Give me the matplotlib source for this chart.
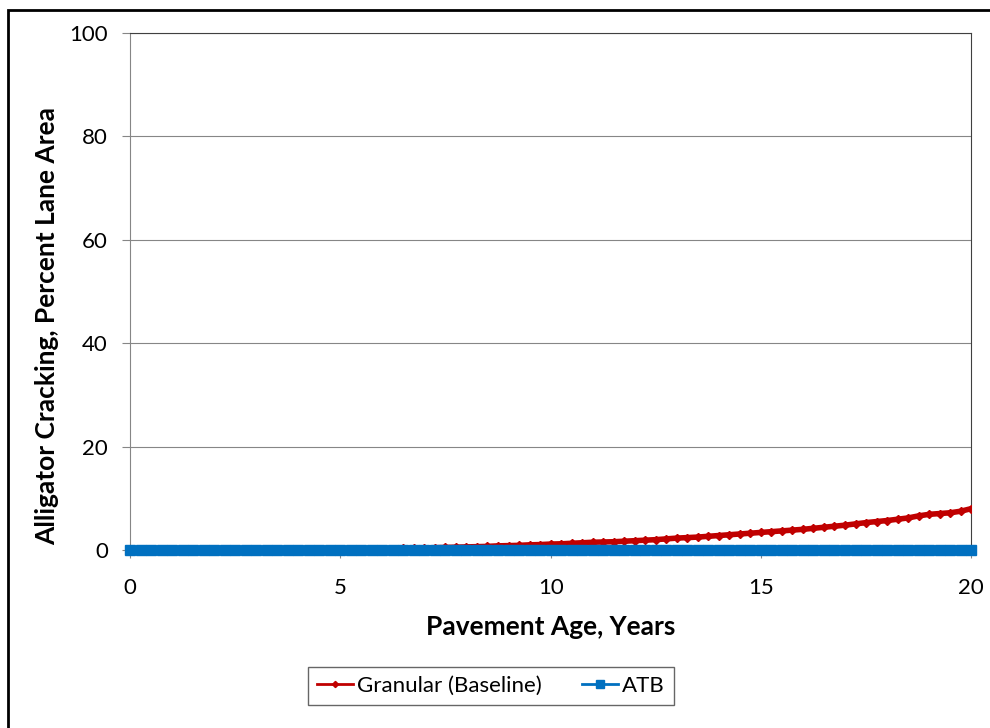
import numpy as np
import matplotlib.pyplot as plt
from matplotlib.patches import Rectangle

plt.rcParams['font.family'] = ['Lato', 'DejaVu Sans']

# pavement age, years (quarter-year steps)
age = np.arange(0, 20.01, 0.25)

# alligator cracking, percent lane area
granular = [0.0] * 17 + [
    0.05, 0.05, 0.1, 0.1, 0.15, 0.15, 0.2, 0.2,
    0.25, 0.3, 0.35, 0.4, 0.45, 0.5, 0.55, 0.6,
    0.65, 0.7, 0.8, 0.85, 0.9, 1.0, 1.05, 1.15,
    1.2, 1.3, 1.4, 1.5, 1.55, 1.6, 1.7, 1.8,
    1.9, 2.0, 2.15, 2.3, 2.4, 2.5, 2.65, 2.8,
    2.95, 3.1, 3.25, 3.4, 3.55, 3.7, 3.85, 4.0,
    4.2, 4.4, 4.6, 4.8, 5.05, 5.3, 5.5, 5.7,
    5.95, 6.2, 6.6, 6.9, 7.05, 7.2, 7.5, 8.0]
atb = [0.0] * 81

fig = plt.figure(figsize=(9.9, 7.28), dpi=100)
ax = fig.add_axes([0.1313, 0.2445, 0.8497, 0.7102])

ax.plot(age, granular, '-', color='#C00000', lw=4, marker='D', ms=4.5,
        label='Granular (Baseline)', zorder=3)
ax.plot(age, atb, '-', color='#0070C0', lw=5, marker='s', ms=7.5,
        label='ATB', zorder=4, clip_on=False)

ax.set_xlim(0, 20)
ax.set_ylim(0, 100)
ax.set_xticks([0, 5, 10, 15, 20])
ax.set_yticks([0, 20, 40, 60, 80, 100])
ax.grid(axis='y', color='#868686', lw=0.8)
ax.set_axisbelow(True)
for s in ax.spines.values():
    s.set_color('#868686')
ax.spines['top'].set_color('#404040')
ax.spines['right'].set_color('#404040')
ax.tick_params(axis='both', labelsize=16, color='#868686', length=6)
ax.tick_params(axis='x', pad=14)
ax.tick_params(axis='y', pad=10)

ax.set_xlabel('Pavement Age, Years', fontsize=19, fontweight='bold')
ax.xaxis.set_label_coords(0.5, -0.125)
ax.set_ylabel('Alligator Cracking, Percent Lane Area', fontsize=19,
              fontweight='bold')
ax.yaxis.set_label_coords(-0.084, 0.433)

leg = fig.legend(loc='center', bbox_to_anchor=(0.496, 0.058), ncol=2,
                 fontsize=16, fancybox=False, edgecolor='#404040',
                 handlelength=1.6, handletextpad=0.2, columnspacing=1.8,
                 markerscale=0.7)
for h in leg.get_lines():
    h.set_linewidth(2)

fig.patches.append(Rectangle((8 / 990, -0.1), 1.0, 1.1 - 10 / 728,
                             transform=fig.transFigure, fill=False,
                             edgecolor='black', lw=2))

fig.savefig('out.png', dpi=100)
